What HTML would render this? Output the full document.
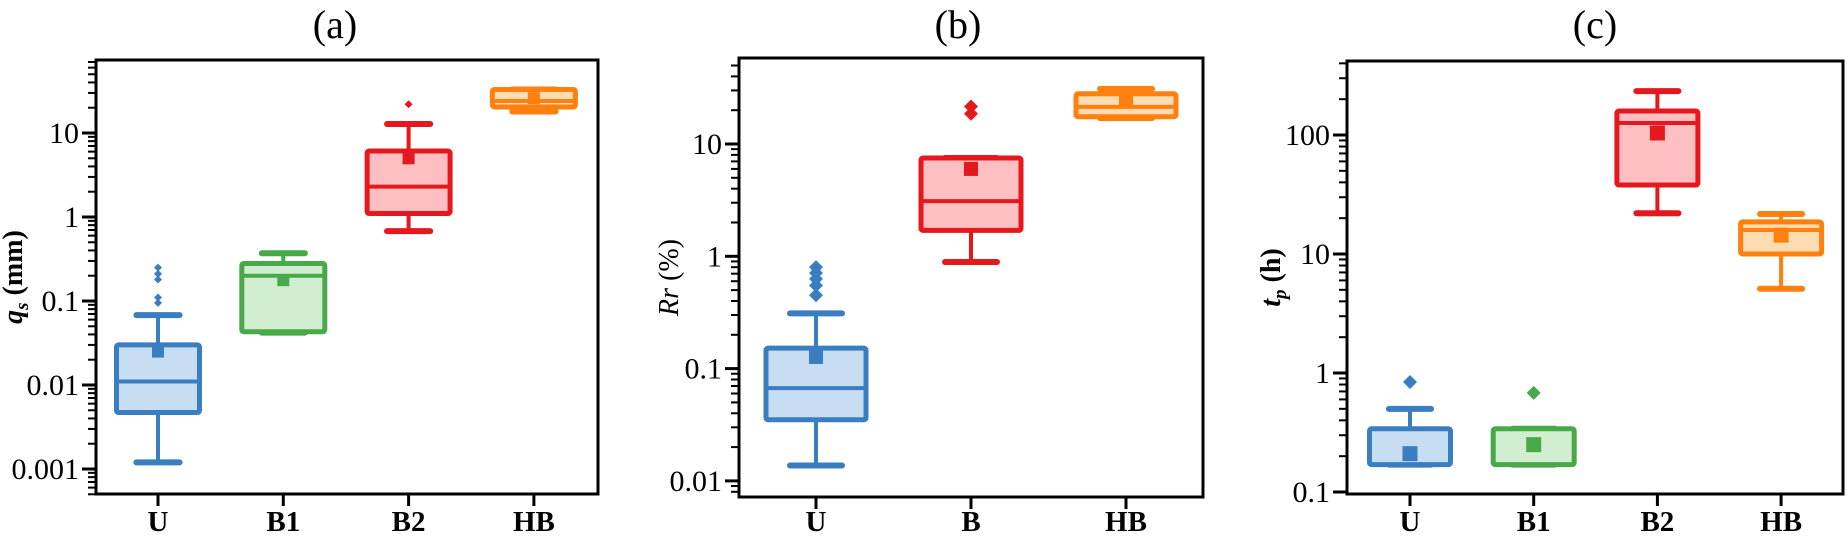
<!DOCTYPE html>
<html><head><meta charset="utf-8"><style>
html,body{margin:0;padding:0;background:#fff;}
svg{display:block;}
svg text{font-family:"Liberation Serif","Times New Roman",Times,serif;}
</style></head><body>
<svg id="fig" width="1848" height="542" viewBox="0 0 1848 542" xmlns="http://www.w3.org/2000/svg" font-family="Liberation Serif, Times New Roman, serif"></svg>
<script>
// Panel (a) data: q_s (mm)
const catsA = ["U","B1","B2","HB"];
const lowA  = [0.0012, 0.042, 0.68, 18];
const q1A   = [0.0047, 0.043, 1.1, 20.4];
const medA  = [0.011, 0.2, 2.3, 24];
const q3A   = [0.030, 0.28, 6.1, 33];
const highA = [0.068, 0.37, 12.8, 33];
const meanA = [0.025, 0.177, 5, 26];
const outA  = [[0.25,0.21,0.18,0.11,0.095],[],[22],[]];
const ticksA = ["0.001","0.01","0.1","1","10"];
// Panel (b) data: Rr (%)
const catsB = ["U","B","HB"];
const lowB  = [0.0137, 0.89, 17];
const q1B   = [0.035, 1.7, 17.5];
const medB  = [0.067, 3.1, 21.4];
const q3B   = [0.152, 7.5, 28];
const highB = [0.31, 7.5, 31];
const meanB = [0.127, 6, 24];
const outB  = [[0.8,0.71,0.63,0.55,0.45],[21.6,18.6],[]];
const ticksB = ["0.01","0.1","1","10"];
// Panel (c) data: t_p (h)
const catsC = ["U","B1","B2","HB"];
const lowC  = [0.17, 0.17, 22, 5.1];
const q1C   = [0.17, 0.17, 38, 10];
const medC  = [0.17, 0.17, 126, 15.9];
const q3C   = [0.34, 0.34, 159, 18.6];
const highC = [0.50, 0.34, 234, 21.7];
const meanC = [0.21, 0.25, 104, 14.4];
const outC  = [[0.84],[0.68],[],[]];
const ticksC = ["0.1","1","10","100"];

const COL = {U:["#3a7dc1","#c7ddf1"],B1:["#49a84a","#d1efd0"],B2:["#e5191d","#fdbfc1"],B:["#e5191d","#fdbfc1"],HB:["#ff7f0f","#ffdcb1"]};
const NS="http://www.w3.org/2000/svg";
const svg=document.getElementById('fig');
const FF='Liberation Serif, Times New Roman, serif';
function mk(tag,attrs,parent){const e=document.createElementNS(NS,tag);for(const k in attrs)e.setAttribute(k,attrs[k]);if(tag==='text')e.setAttribute('font-family',FF);(parent||svg).appendChild(e);return e;}

function panel(cfg){
  const g=mk('g',{});
  
  
  const {x0,x1,y0,y1,refV,refY,dec}=cfg;
  const yS=v=>refY-(Math.log10(v)-Math.log10(refV))*dec;
  const xS=i=>cfg.cx0+i*cfg.sp;
  const t=mk('text',{x:cfg.tx,y:38,'font-size':40,'text-anchor':'middle'},g);
  t.textContent=cfg.title;
  
  
  const lo=Math.floor(Math.log10(refV)-(y1-refY)/dec), hi=Math.ceil(Math.log10(refV)+(refY-y0)/dec);
  for(let e=lo;e<=hi;e++){
    for(let m=1;m<10;m++){
      const v=m*Math.pow(10,e), y=yS(v);
      if(y<y0-0.5||y>y1+0.5)continue;
      const len=m===1?14:8;
      const tk=mk('line',{x1:x0-len,x2:x0,y1:y,y2:y,stroke:'#000','stroke-width':m===1?3:2},g);
      
      
    }
  }
  cfg.ticks.forEach(s=>{
    const tl=mk('text',{x:x0-17,y:yS(parseFloat(s))+10,'font-size':30,'text-anchor':'end'},g);
    tl.textContent=s;
    
    
  });
  const yt=mk('text',{transform:`translate(${cfg.ytx},${(y0+y1)/2}) rotate(-90)`,'font-size':28,'text-anchor':'middle','font-weight':cfg.ybold?'bold':'normal'},g);
  yt.innerHTML=cfg.ytitle;
  
  
  cfg.cats.forEach((c,i)=>{
    const [st,fl]=COL[c]; const cx=xS(i); const bw=cfg.bw;
    const bg=mk('g',{},g);
    
    
    const cw=bw*0.52;
    const yh=yS(cfg.high[i]), yl=yS(cfg.low[i]), yq3=yS(cfg.q3[i]), yq1=yS(cfg.q1[i]);
    if(cfg.high[i]>cfg.q3[i]){mk('line',{x1:cx,x2:cx,y1:yh,y2:yq3,stroke:st,'stroke-width':4},bg);}
    mk('line',{x1:cx-cw/2,x2:cx+cw/2,y1:yh,y2:yh,stroke:st,'stroke-width':6,'stroke-linecap':'round'},bg);
    if(cfg.low[i]<cfg.q1[i]){mk('line',{x1:cx,x2:cx,y1:yq1,y2:yl,stroke:st,'stroke-width':4},bg);}
    mk('line',{x1:cx-cw/2,x2:cx+cw/2,y1:yl,y2:yl,stroke:st,'stroke-width':6,'stroke-linecap':'round'},bg);
    mk('rect',{x:cx-bw/2,y:yq3,width:bw,height:Math.max(yq1-yq3,0.1),fill:fl,stroke:st,'stroke-width':5,rx:2},bg);
    const ym=yS(cfg.med[i]);
    mk('line',{x1:cx-bw/2,x2:cx+bw/2,y1:ym,y2:ym,stroke:st,'stroke-width':4},bg);
    const ms=cfg.ms, ymn=yS(cfg.mean[i]);
    const mr=mk('rect',{x:cx-ms/2,y:ymn-ms/2,width:ms,height:ms,fill:st},bg);
    
    
    cfg.out[i].forEach(v=>{
      const y=yS(v), d=cfg.ds;
      const p=mk('path',{d:`M${cx},${y-d} L${cx+d},${y} L${cx},${y+d} L${cx-d},${y} Z`,fill:st},bg);
      
      
    });
    mk('line',{x1:cx,x2:cx,y1:y1,y2:y1+12,stroke:'#000','stroke-width':3},g);
    const xl=mk('text',{x:cx,y:531,'font-size':29,'font-weight':'bold','text-anchor':'middle'},g);
    xl.textContent=c;
    
    
  });
  const fr=mk('rect',{x:x0,y:y0,width:x1-x0,height:y1-y0,fill:'none',stroke:'#000','stroke-width':3},g);
  
  
}

panel({name:'panel-a',title:'(a)',tx:335,x0:96,x1:598,y0:60,y1:494,refV:10,refY:133,dec:84,cx0:158,sp:125.3,bw:83,ms:12,ds:4,
  cats:catsA,low:lowA,q1:q1A,med:medA,q3:q3A,high:highA,mean:meanA,out:outA,ticks:ticksA,
  ytx:22,ybold:true,ytitle:'<tspan font-style="italic">q</tspan><tspan font-style="italic" font-size="19" dy="6">s</tspan><tspan dy="-6"> (mm)</tspan>'});
panel({name:'panel-b',title:'(b)',tx:958,x0:739,x1:1203,y0:58,y1:497,refV:10,refY:144,dec:112.3,cx0:816,sp:155,bw:100,ms:14,ds:7,
  cats:catsB,low:lowB,q1:q1B,med:medB,q3:q3B,high:highB,mean:meanB,out:outB,ticks:ticksB,
  ytx:678,ybold:false,ytitle:'<tspan font-style="italic">Rr</tspan> (%)'});
panel({name:'panel-c',title:'(c)',tx:1595,x0:1347,x1:1843,y0:61,y1:494,refV:100,refY:135,dec:119,cx0:1410,sp:123.7,bw:81,ms:15,ds:7,
  cats:catsC,low:lowC,q1:q1C,med:medC,q3:q3C,high:highC,mean:meanC,out:outC,ticks:ticksC,
  ytx:1280,ybold:true,ytitle:'<tspan font-style="italic">t</tspan><tspan font-style="italic" font-size="19" dy="6">p</tspan><tspan dy="-6"> (h)</tspan>'});
</script>
</body></html>
